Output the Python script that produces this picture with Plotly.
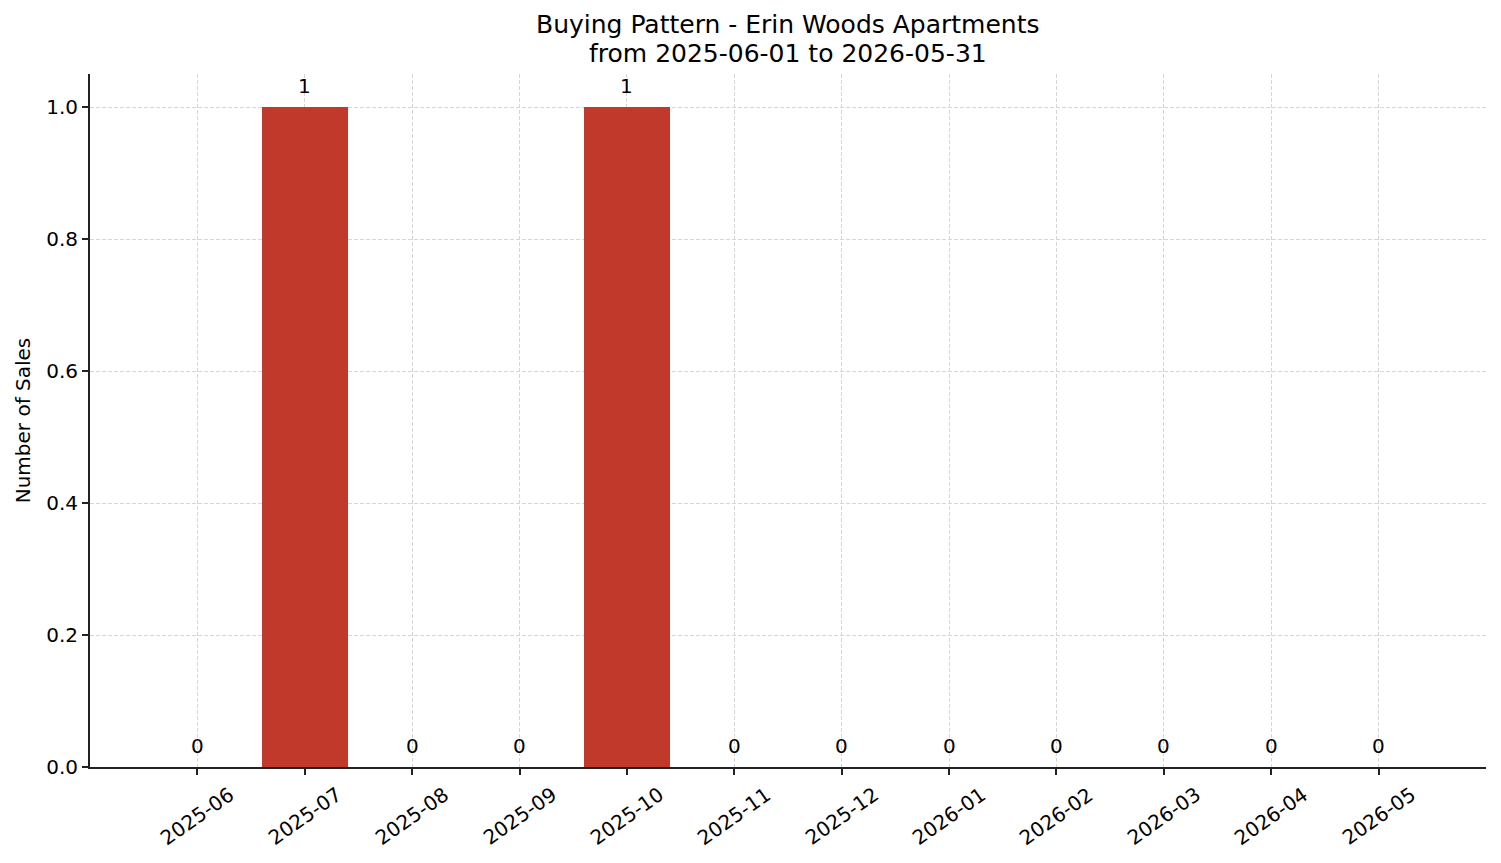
import plotly.graph_objects as go

months = ['2025-06', '2025-07', '2025-08', '2025-09', '2025-10', '2025-11',
          '2025-12', '2026-01', '2026-02', '2026-03', '2026-04', '2026-05']
sales = [0, 1, 0, 0, 1, 0, 0, 0, 0, 0, 0, 0]
y_ticks = [0.0, 0.2, 0.4, 0.6, 0.8, 1.0]
title_lines = ['Buying Pattern - Erin Woods Apartments', 'from 2025-06-01 to 2026-05-31']

pos = list(range(len(months)))
font = 'DejaVu Sans, Arial, sans-serif'
ink = '#222222'
plot_h = 847 - 66 - 88

fig = go.Figure()

fig.add_trace(go.Bar(
    x=pos,
    y=sales,
    width=0.8,
    marker=dict(color='#c0392b', line=dict(width=0)),
    hoverinfo='skip',
    showlegend=False
))

annotations = []
# title, two lines set closer together than plotly's own line height
for i, line in enumerate(title_lines):
    annotations.append(dict(
        x=0.5, y=1 + (49 - 28 * i) / plot_h, xref='paper', yref='paper',
        text=line, showarrow=False, xanchor='center', yanchor='middle',
        font=dict(size=25, color='black', family=font)
    ))
# value labels above each bar
for p, v in zip(pos, sales):
    annotations.append(dict(
        x=p, y=v, xref='x', yref='y',
        text=str(v), showarrow=False,
        xanchor='center', yanchor='bottom', yshift=7,
        font=dict(size=20, color='black', family=font)
    ))
# rotated month labels, centred under each tick
for p, m in zip(pos, months):
    annotations.append(dict(
        x=p, y=0, xref='x', yref='paper',
        text=m, showarrow=False, textangle=-35,
        xanchor='center', yanchor='top', yshift=-12,
        font=dict(size=20, color='black', family=font)
    ))

fig.update_layout(
    width=1485,
    height=847,
    margin=dict(l=82, r=7, t=66, b=88),
    plot_bgcolor='white',
    paper_bgcolor='white',
    font=dict(family=font, size=20, color='black'),
    bargap=0,
    annotations=annotations,
)

fig.update_xaxes(
    range=[-1, 12],
    tickmode='array',
    tickvals=pos,
    showticklabels=False,
    ticks='outside',
    ticklen=6,
    tickwidth=1.5,
    tickcolor=ink,
    showline=True,
    linecolor=ink,
    linewidth=1.8,
    showgrid=True,
    gridcolor='#d6d6d6',
    griddash='4px,2px',
    gridwidth=1,
    zeroline=False,
    layer='above traces'
)
fig.update_yaxes(
    range=[0, 1.05],
    tickmode='array',
    tickvals=y_ticks,
    ticktext=['%.1f' % v for v in y_ticks],
    ticks='outside',
    ticklen=6,
    tickwidth=1.5,
    tickcolor=ink,
    showline=True,
    linecolor=ink,
    linewidth=1.8,
    showgrid=True,
    gridcolor='#d6d6d6',
    griddash='4px,2px',
    gridwidth=1,
    zeroline=False,
    layer='above traces',
    title=dict(text='Number of Sales', font=dict(size=20), standoff=10),
    tickfont=dict(size=20)
)

fig.write_html("out.html")
